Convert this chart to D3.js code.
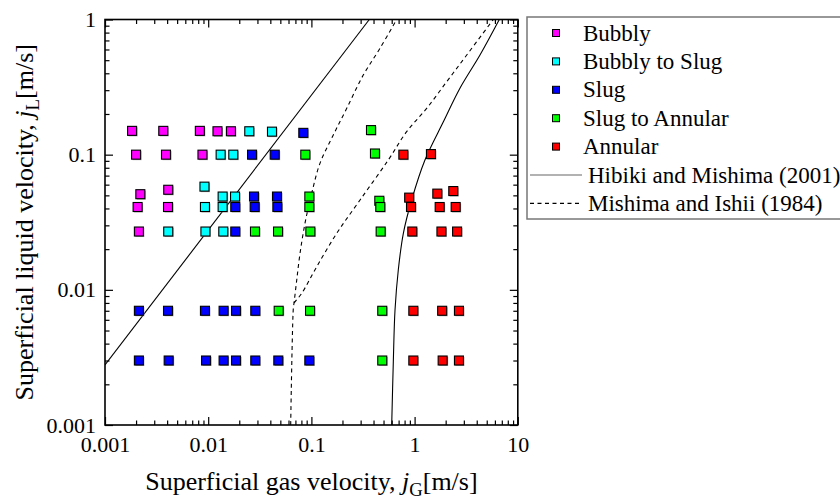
<!DOCTYPE html>
<html>
<head>
<meta charset="utf-8">
<script src="https://cdn.jsdelivr.net/npm/d3@7/dist/d3.min.js"></script>
<style>
  body { margin: 0; background: #fff; }
  svg { display: block; font-family: "Liberation Serif", "Times New Roman", serif; }
</style>
</head>
<body>
<svg width="840" height="500"></svg>
<script>

// points, [jG, jL] in m/s
const bubbly = [
  [0.00183, 0.15], [0.00367, 0.15], [0.0083, 0.15], [0.0123, 0.149], [0.0166, 0.149],
  [0.0020, 0.1], [0.0039, 0.1], [0.0088, 0.1],
  [0.0041, 0.055], [0.0022, 0.051],
  [0.00207, 0.041], [0.00408, 0.041],
  [0.00213, 0.027]
];

const bubbly_slug = [
  [0.025, 0.149], [0.0415, 0.148],
  [0.0132, 0.1], [0.0175, 0.1],
  [0.0092, 0.058],
  [0.0138, 0.049], [0.0182, 0.049],
  [0.0093, 0.041], [0.0138, 0.041],
  [0.0041, 0.027], [0.0094, 0.027], [0.014, 0.027]
];

const slug = [
  [0.0835, 0.145],
  [0.0266, 0.1], [0.0441, 0.1],
  [0.0278, 0.049], [0.0464, 0.049],
  [0.0183, 0.041], [0.0282, 0.041], [0.0468, 0.041],
  [0.0183, 0.027],
  [0.00213, 0.007], [0.00408, 0.007], [0.0093, 0.007], [0.0141, 0.007], [0.0186, 0.007], [0.0286, 0.007],
  [0.00213, 0.003], [0.00414, 0.003], [0.00953, 0.003], [0.0141, 0.003], [0.0186, 0.003], [0.0286, 0.003],
  [0.0478, 0.003], [0.0955, 0.003]
];

const slug_annular = [
  [0.378, 0.152], [0.413, 0.102], [0.0873, 0.1],
  [0.0955, 0.049], [0.455, 0.0456],
  [0.0955, 0.041], [0.465, 0.041],
  [0.0284, 0.027], [0.0475, 0.027], [0.0977, 0.027], [0.469, 0.027],
  [0.0482, 0.007], [0.097, 0.007], [0.486, 0.007],
  [0.486, 0.003]
];

const annular = [
  [0.778, 0.1], [1.44, 0.101],
  [0.886, 0.0481], [1.66, 0.0515], [2.37, 0.0538],
  [0.923, 0.041], [1.75, 0.041], [2.5, 0.041],
  [0.95, 0.027], [1.82, 0.027], [2.58, 0.027],
  [0.972, 0.007], [1.85, 0.007], [2.69, 0.007],
  [0.972, 0.003], [1.87, 0.003], [2.69, 0.003]
];

// transition boundaries
const hibiki_bs = [[0.001, 0.00278], [0.364, 1]];
const hibiki_sa = [
  [0.600, 0.001], [0.622, 0.00294], [0.646, 0.0071], [0.695, 0.01403], [0.778, 0.0262],
  [0.937, 0.0462], [1.26, 0.0913], [1.90, 0.175], [2.75, 0.310], [4.30, 0.546], [6.62, 1]
];
const ishii_bs = [
  [0.0630, 0.001], [0.0668, 0.00729], [0.0678, 0.00795], [0.0721, 0.01183], [0.0776, 0.01863],
  [0.0867, 0.0311], [0.1007, 0.0518], [0.1211, 0.0863], [0.163, 0.1397], [0.220, 0.2203],
  [0.318, 0.388], [0.462, 0.612], [0.671, 1]
];
const ishii_sa = [
  [0.0678, 0.0080], [0.0805, 0.00942], [0.1126, 0.01483], [0.176, 0.0262], [0.296, 0.0462],
  [0.556, 0.0913], [0.838, 0.148], [1.31, 0.2203], [2.05, 0.347], [3.2, 0.546], [5.79, 1]
];

const x_ticks = [0.001, 0.01, 0.1, 1, 10];
const x_tick_labels = ["0.001", "0.01", "0.1", "1", "10"];
const y_ticks = [0.001, 0.01, 0.1, 1];
const y_tick_labels = ["0.001", "0.01", "0.1", "1"];

const regimes = ["Bubbly", "Bubbly to Slug", "Slug", "Slug to Annular", "Annular"];
const regime_colors = ["#ff00ff", "#00ffff", "#0000ff", "#00ff00", "#ff0000"];
const regime_data = [bubbly, bubbly_slug, slug, slug_annular, annular];

const vis = {

  params : {
    plot : { left : 105, right : 517.8, top : 19.5, bottom : 425 },
    font : { tick : 22, title : 26, legend : 23 },
    marker : 9
  },

  sels : { svg : null },

  scales : { x : null, y : null },

  render : {

    frame : function() {

      const p = vis.params.plot;
      const x = vis.scales.x, y = vis.scales.y;
      const svg = vis.sels.svg;

      const minor_x = x.ticks().filter(v => !x_ticks.includes(v));
      const minor_y = y.ticks().filter(v => !y_ticks.includes(v));

      const axes = [
        { gen : d3.axisBottom(x), pos : `translate(0,${p.bottom})`, major : x_ticks, minor : minor_x, labels : x_tick_labels, pad : 11 },
        { gen : d3.axisTop(x), pos : `translate(0,${p.top})`, major : x_ticks, minor : minor_x, labels : null, pad : 0 },
        { gen : d3.axisLeft(y), pos : `translate(${p.left},0)`, major : y_ticks, minor : minor_y, labels : y_tick_labels, pad : 9 },
        { gen : d3.axisRight(y), pos : `translate(${p.right},0)`, major : y_ticks, minor : minor_y, labels : null, pad : 0 }
      ];

      axes.forEach(a => {

        const minor_g = svg.append("g").attr("transform", a.pos)
          .call(a.gen.tickValues(a.minor).tickSizeInner(-4.5).tickSizeOuter(0).tickFormat(""));
        minor_g.select(".domain").remove();

        const lab = a.labels;
        const major_g = svg.append("g").attr("transform", a.pos)
          .call(a.gen.tickValues(a.major).tickSizeInner(-8).tickSizeOuter(0).tickPadding(a.pad)
            .tickFormat((d, i) => lab ? lab[i] : ""));
        major_g.select(".domain").remove();

        svg.selectAll("g.tick line").attr("stroke", "#000").attr("stroke-width", 1.2);
        major_g.selectAll("text")
          .attr("fill", "#000")
          .style("font-family", "'Liberation Serif', 'Times New Roman', serif")
          .style("font-size", vis.params.font.tick + "px");

      });

      svg.append("rect")
        .attr("x", p.left).attr("y", p.top)
        .attr("width", p.right - p.left).attr("height", p.bottom - p.top)
        .attr("fill", "none").attr("stroke", "#000").attr("stroke-width", 1.6);

    },

    labels : function() {

      const p = vis.params.plot;
      const svg = vis.sels.svg;
      const fs = vis.params.font.title;

      const xl = svg.append("text")
        .attr("x", (p.left + p.right) / 2).attr("y", 490)
        .attr("text-anchor", "middle").style("font-size", fs + "px");
      xl.append("tspan").text("Superficial gas velocity, ");
      xl.append("tspan").style("font-style", "italic").text("j");
      xl.append("tspan").attr("dy", 6).style("font-size", (fs * 0.72) + "px").text("G");
      xl.append("tspan").attr("dy", -6).text("[m/s]");

      const yl = svg.append("text")
        .attr("transform", `translate(33,${(p.top + p.bottom) / 2}) rotate(-90)`)
        .attr("text-anchor", "middle").style("font-size", fs + "px");
      yl.append("tspan").text("Superficial liquid velocity, ");
      yl.append("tspan").style("font-style", "italic").text("j");
      yl.append("tspan").attr("dy", 6).style("font-size", (fs * 0.72) + "px").text("L");
      yl.append("tspan").attr("dy", -6).text("[m/s]");

    },

    curves : function() {

      const p = vis.params.plot;
      const x = vis.scales.x, y = vis.scales.y;
      const svg = vis.sels.svg;

      svg.append("clipPath").attr("id", "plot-clip")
        .append("rect")
        .attr("x", p.left).attr("y", p.top)
        .attr("width", p.right - p.left).attr("height", p.bottom - p.top);

      const line = d3.line()
        .x(d => x(d[0])).y(d => y(d[1]))
        .curve(d3.curveCatmullRom.alpha(0.5));

      const g = svg.append("g").attr("clip-path", "url(#plot-clip)");

      [
        { d : hibiki_bs, dash : null },
        { d : hibiki_sa, dash : null },
        { d : ishii_bs, dash : "4,3.5" },
        { d : ishii_sa, dash : "4,3.5" }
      ].forEach(c => {
        g.append("path")
          .attr("d", line(c.d))
          .attr("fill", "none")
          .attr("stroke", "#000")
          .attr("stroke-width", 1.1)
          .attr("stroke-dasharray", c.dash);
      });

    },

    points : function() {

      const x = vis.scales.x, y = vis.scales.y;
      const s = vis.params.marker;
      const svg = vis.sels.svg;

      regime_data.forEach((data, i) => {

        const g = svg.append("g").attr("class", "regime");

        g.selectAll("rect.shadow")
          .data(data)
          .join("rect")
          .classed("shadow", true)
          .attr("x", d => x(d[0]) - s / 2 + 1)
          .attr("y", d => y(d[1]) - s / 2 + 1)
          .attr("width", s).attr("height", s)
          .attr("fill", "#8a8a8a").attr("opacity", 0.7);

        g.selectAll("rect.mark")
          .data(data)
          .join("rect")
          .classed("mark", true)
          .attr("x", d => x(d[0]) - s / 2)
          .attr("y", d => y(d[1]) - s / 2)
          .attr("width", s).attr("height", s)
          .attr("fill", regime_colors[i])
          .attr("stroke", "#000").attr("stroke-width", 1.1);

      });

    },

    legend : function() {

      const svg = vis.sels.svg;
      const fs = vis.params.font.legend;
      const g = svg.append("g").attr("class", "legend");

      g.append("rect")
        .attr("x", 527).attr("y", 17)
        .attr("width", 330).attr("height", 202)
        .attr("fill", "#fff").attr("stroke", "#777").attr("stroke-width", 1.5);

      const row = i => 33 + i * 28.4;

      regimes.forEach((name, i) => {
        g.append("rect")
          .attr("x", 552.5).attr("y", row(i) - 3.5)
          .attr("width", 7).attr("height", 7)
          .attr("fill", regime_colors[i]).attr("stroke", "#000").attr("stroke-width", 1);
        g.append("text")
          .attr("x", 583).attr("y", row(i) + 7.5)
          .style("font-size", fs + "px")
          .text(name);
      });

      const lines = [
        { name : "Hibiki and Mishima (2001)", dash : null },
        { name : "Mishima and Ishii (1984)", dash : "4,3.5" }
      ];

      lines.forEach((l, j) => {
        const yy = row(5 + j);
        g.append("line")
          .attr("x1", 530).attr("x2", 582).attr("y1", yy).attr("y2", yy)
          .attr("stroke", l.dash ? "#000" : "#666").attr("stroke-width", 1.1)
          .attr("stroke-dasharray", l.dash);
        g.append("text")
          .attr("x", 588).attr("y", yy + 7.5)
          .style("font-size", fs + "px")
          .text(l.name);
      });

    }

  },

  control : {

    init : function() {

      const p = vis.params.plot;
      vis.sels.svg = d3.select("svg");

      vis.scales.x = d3.scaleLog().domain([0.001, 10]).range([p.left, p.right]);
      vis.scales.y = d3.scaleLog().domain([0.001, 1]).range([p.bottom, p.top]);

      vis.render.curves();
      vis.render.points();
      vis.render.frame();
      vis.render.labels();
      vis.render.legend();

    }

  }

};

vis.control.init();
</script>
</body>
</html>
